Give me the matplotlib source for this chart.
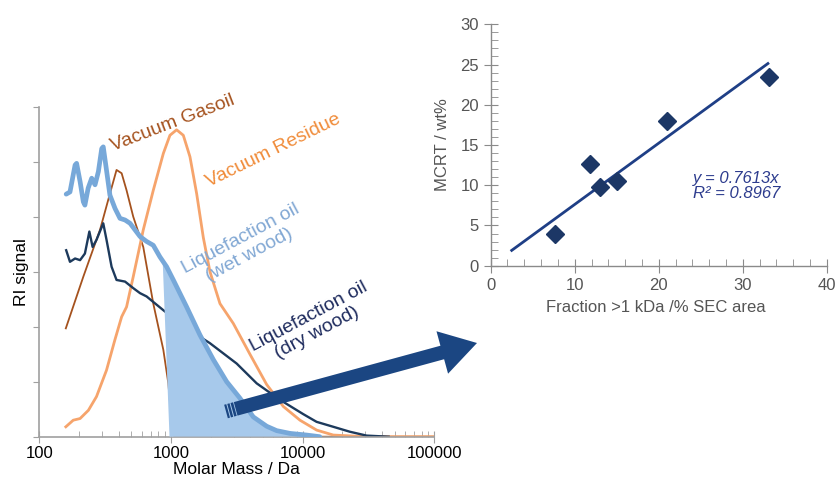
import numpy as np
import matplotlib
matplotlib.use("Agg")
import matplotlib.pyplot as plt
from matplotlib import patches
from matplotlib.ticker import MultipleLocator, LogLocator, NullFormatter, FixedLocator

plt.rcParams['font.family'] = ['Liberation Sans', 'DejaVu Sans']

# ---------------- Left chart data (molar mass in Da, RI signal in tick units) -------------
gasoil_M = [159, 216, 289, 344, 386, 422, 460, 517, 616, 734, 875, 955, 1010, 1060, 100000]
gasoil_s = [1.97, 2.91, 3.76, 4.42, 4.85, 4.79, 4.48, 4.00, 3.45, 2.42, 1.58, 0.97, 0.30, 0.0, 0.0]

residue_M = [159, 181, 204, 236, 272, 324, 375, 422, 460, 517, 616, 734, 875, 982, 1104,
             1241, 1394, 1567, 1761, 1978, 2356, 2973, 3979, 5328, 7131, 9546, 12780,
             17100, 30600, 100000]
residue_s = [0.18, 0.30, 0.33, 0.48, 0.73, 1.21, 1.76, 2.18, 2.36, 2.91, 3.76, 4.48, 5.15,
             5.48, 5.58, 5.48, 5.09, 4.42, 3.62, 3.00, 2.42, 2.06, 1.50, 0.95, 0.55, 0.30,
             0.12, 0.03, 0.0, 0.0]

wet_M = [160, 171, 187, 192, 204, 216, 222, 235, 250, 265, 281, 298, 306, 325, 344, 376,
         410, 448, 489, 582, 653, 734, 824, 927, 1042, 1315, 1660, 2099, 2649, 3342,
         4217, 5333, 6353, 8017, 10715, 13490]
wet_s = [4.41, 4.45, 4.94, 4.97, 4.64, 4.27, 4.21, 4.52, 4.70, 4.58, 4.82, 5.24, 5.27,
         4.82, 4.39, 4.15, 3.97, 3.94, 3.88, 3.64, 3.55, 3.48, 3.27, 3.09, 2.85, 2.36,
         1.85, 1.40, 1.00, 0.70, 0.36, 0.19, 0.11, 0.06, 0.03, 0.0]

dry_M = [160, 171, 187, 204, 222, 240, 254, 272, 306, 324, 354, 386, 448, 518, 582, 653,
         734, 875, 1259, 1977, 3155, 4477, 6730, 10116, 12765, 17100, 22860, 30600, 45000]
dry_s = [3.39, 3.18, 3.24, 3.21, 3.33, 3.73, 3.45, 3.58, 3.88, 3.58, 3.09, 2.85, 2.82,
         2.70, 2.61, 2.55, 2.45, 2.30, 2.00, 1.70, 1.33, 0.97, 0.67, 0.41, 0.27, 0.18,
         0.09, 0.02, 0.0]

fill_start_M = [865, 975]   # slanted left edge of the shaded >1 kDa area

# ---------------- Right chart data -------------
frac = [7.6, 11.8, 13.0, 15.0, 21.0, 33.1]
mcrt = [4.0, 12.6, 9.8, 10.5, 18.0, 23.5]
slope = 0.7613
fit_x = [2.5, 33.0]

W, H = 837, 483
fig = plt.figure(figsize=(W / 100, H / 100), dpi=100)

# colours
c_gas = '#a5521e'
c_res = '#f6a46c'
c_wet = '#77a8d9'
c_dry = '#1d3a5c'
c_fill = '#a7c9eb'
c_arrow = '#1b4682'

# ---------------- Left axes -------------
axL = fig.add_axes([39.3 / W, 1 - 436.7 / H, 395 / W, 330 / H])
axL.set_xscale('log')
axL.set_xlim(100, 100000)
axL.set_ylim(0, 6)
axL.plot(gasoil_M, gasoil_s, color=c_gas, lw=1.3, zorder=2)
axL.plot(residue_M, residue_s, color=c_res, lw=2.0, zorder=2)
axL.plot(dry_M, dry_s, color=c_dry, lw=1.7, zorder=2)

# shaded area under wet-wood curve above ~1 kDa
lw_M = np.log10(wet_M)
top_s = np.interp(np.log10(fill_start_M[0]), lw_M, wet_s)
sel = [(m, s) for m, s in zip(wet_M, wet_s) if m > fill_start_M[0]]
poly = [(fill_start_M[1], 0.0), (fill_start_M[0], top_s)] + sel + [(sel[-1][0], 0.0)]
axL.add_patch(patches.Polygon(poly, closed=True, facecolor=c_fill, edgecolor='none', zorder=3))
axL.plot(wet_M, wet_s, color=c_wet, lw=3.4, zorder=4, solid_capstyle='round',
         solid_joinstyle='round')

for side in ['top', 'right']:
    axL.spines[side].set_visible(False)
for side in ['left', 'bottom']:
    axL.spines[side].set_color('#a0a0a0')
    axL.spines[side].set_linewidth(1.2)
axL.yaxis.set_major_locator(MultipleLocator(1))
axL.yaxis.set_major_formatter(NullFormatter())
axL.tick_params(axis='y', which='major', length=4, color='#a0a0a0', direction='out')
axL.xaxis.set_major_locator(FixedLocator([100, 1000, 10000, 100000]))
axL.set_xticklabels(['100', '1000', '10000', '100000'])
axL.xaxis.set_minor_locator(LogLocator(base=10, subs=np.arange(2, 10), numticks=20))
axL.xaxis.set_minor_formatter(NullFormatter())
axL.tick_params(axis='x', which='major', length=8, direction='inout', color='#a0a0a0',
                labelsize=12, pad=3)
axL.tick_params(axis='x', which='minor', length=4, direction='in', color='#a0a0a0')
axL.set_xlabel('Molar Mass / Da', fontsize=12.5, va='center')
axL.xaxis.set_label_coords(0.5, (436.7 - 470) / 330)
axL.set_ylabel('RI signal', fontsize=12.5, va='center')
axL.yaxis.set_label_coords((22 - 39.3) / 395, 0.5)
axL.patch.set_alpha(0)

# ---------------- Right axes -------------
axR = fig.add_axes([490.7 / W, 1 - 265.7 / H, 336 / W, 241.4 / H])
axR.set_xlim(0, 40)
axR.set_ylim(0, 30)
axR.plot(fit_x, [slope * v for v in fit_x], color='#1f3f86', lw=2.0, zorder=2)
axR.plot(frac, mcrt, linestyle='none', marker='D', ms=9, color='#1c3766', zorder=3)
for side in ['top', 'right']:
    axR.spines[side].set_visible(False)
for side in ['left', 'bottom']:
    axR.spines[side].set_color('#8a8a8a')
    axR.spines[side].set_linewidth(1.0)
axR.xaxis.set_major_locator(MultipleLocator(10))
axR.xaxis.set_minor_locator(MultipleLocator(2))
axR.yaxis.set_major_locator(MultipleLocator(5))
axR.yaxis.set_minor_locator(MultipleLocator(1))
axR.tick_params(which='major', direction='inout', length=10, color='#8a8a8a',
                labelcolor='#555555', labelsize=12)
axR.tick_params(which='minor', direction='in', length=5, color='#8a8a8a')
axR.set_xlabel('Fraction >1 kDa /% SEC area', fontsize=12, color='#555555', va='center')
axR.xaxis.set_label_coords(0.49, (265.7 - 308) / 241.4)
axR.set_ylabel('MCRT / wt%', fontsize=12, color='#555555', va='center')
axR.yaxis.set_label_coords((443 - 490.7) / 336, 0.5)
axR.text(24.1, 9.9, 'y = 0.7613x\nR² = 0.8967', fontsize=12, style='italic',
         color='#2d3c8e', ha='left', va='center', linespacing=1.0)
axR.patch.set_alpha(0)

# ---------------- Overlay (pixel coords) for labels and arrow -------------
ov = fig.add_axes([0, 0, 1, 1], zorder=10)
ov.set_xlim(0, W)
ov.set_ylim(H, 0)
ov.axis('off')
ov.patch.set_alpha(0)

ov.text(173, 123, 'Vacuum Gasoil', color=c_gas, fontsize=14, rotation=21,
        ha='center', va='center', rotation_mode='anchor')
ov.text(273, 151, 'Vacuum Residue', color='#f08c3a', fontsize=14, rotation=26,
        ha='center', va='center', rotation_mode='anchor')
ov.text(245, 247, 'Liquefaction oil\n(wet wood)', color='#82a8d4', fontsize=14, rotation=28,
        ha='center', va='center', rotation_mode='anchor', linespacing=1.05)
ov.text(313, 325, 'Liquefaction oil\n(dry wood)', color='#1f2c5e', fontsize=14, rotation=28,
        ha='center', va='center', rotation_mode='anchor', linespacing=1.05)

# arrow
tail = np.array([226.0, 411.5])
tip = np.array([477.0, 343.0])
d = tip - tail
L = np.hypot(*d)
u = d / L
n = np.array([-u[1], u[0]])
start = tail + u * 10
arr = patches.FancyArrow(start[0], start[1], tip[0] - start[0], tip[1] - start[1],
                         width=14, head_width=44, head_length=36,
                         length_includes_head=True, color=c_arrow, lw=0)
ov.add_patch(arr)
for a0, a1 in [(0, 2.2), (3.2, 5.6), (6.6, 9.2)]:
    p0 = tail + u * a0
    p1 = tail + u * a1
    pts = [p0 + n * 7, p1 + n * 7, p1 - n * 7, p0 - n * 7]
    ov.add_patch(patches.Polygon(pts, closed=True, facecolor=c_arrow, edgecolor='none'))

fig.savefig('out.png', dpi=100)
